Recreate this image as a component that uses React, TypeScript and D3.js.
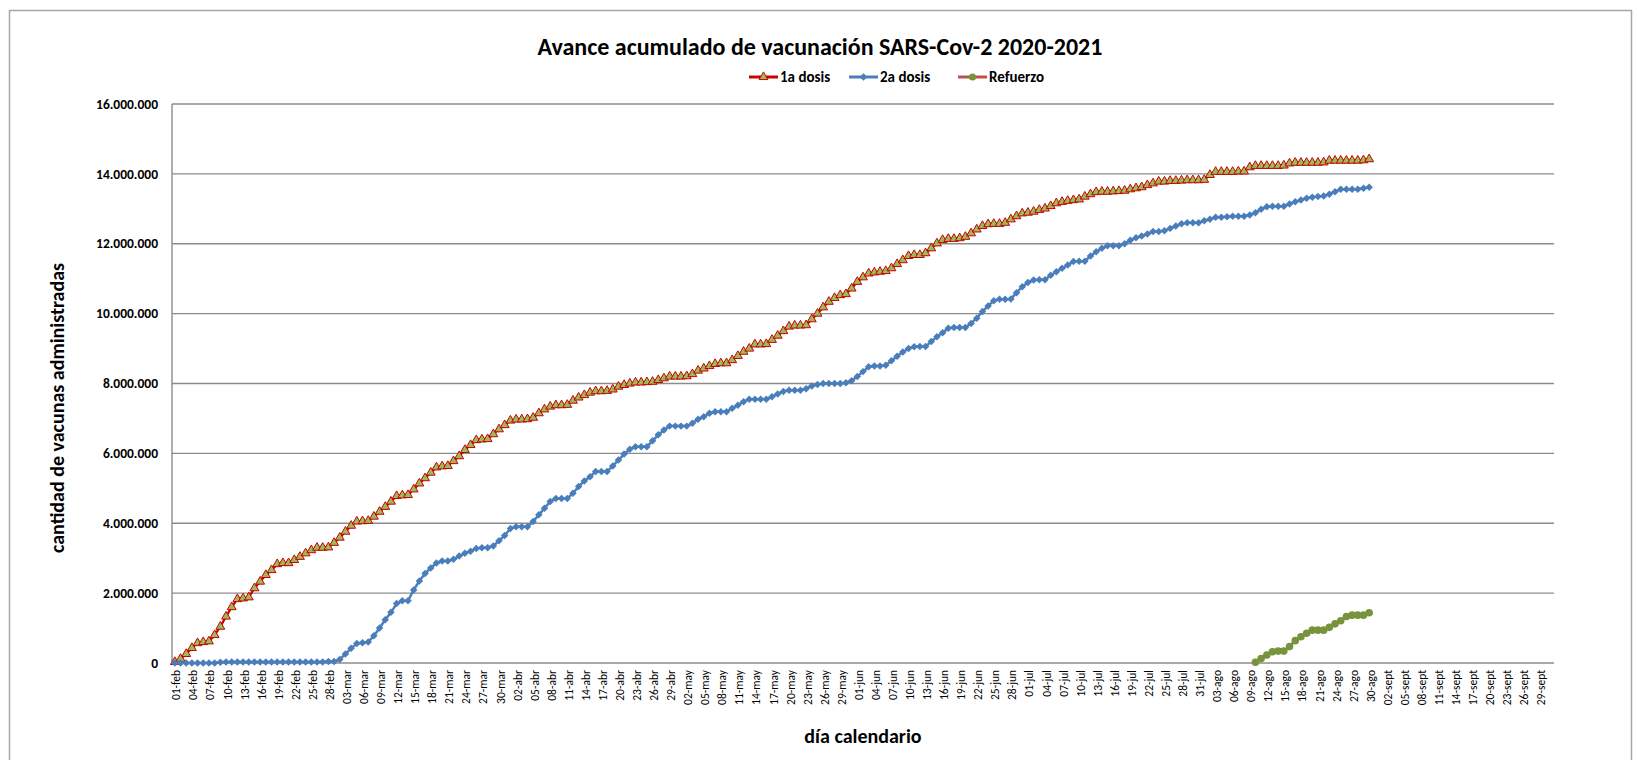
import * as d3 from "d3";

// categories: one per calendar day, 01-feb .. 01-oct (2021)
const meses = ["ene", "feb", "mar", "abr", "may", "jun", "jul", "ago", "sept", "oct", "nov", "dic"];
const dias = d3.timeDay.range(new Date(2021, 1, 1), new Date(2021, 9, 2));
const categorias = dias.map((d) => d3.timeFormat("%d")(d) + "-" + meses[d.getMonth()]);
const tickLabels = categorias.filter((_, i) => i % 3 === 0);

// 1a dosis, one row per week (mon..sun) from 01-feb to 30-ago
const primeraDosis = [
  30000, 120000, 260000, 430000, 570000, 600000, 620000,
  800000, 1040000, 1330000, 1600000, 1830000, 1850000, 1880000,
  2140000, 2330000, 2520000, 2660000, 2830000, 2860000, 2860000,
  2950000, 3040000, 3140000, 3230000, 3300000, 3300000, 3310000,
  3440000, 3590000, 3760000, 3930000, 4050000, 4060000, 4070000,
  4190000, 4330000, 4470000, 4620000, 4780000, 4800000, 4810000,
  4970000, 5140000, 5290000, 5450000, 5600000, 5630000, 5640000,
  5780000, 5920000, 6100000, 6240000, 6380000, 6400000, 6410000,
  6550000, 6690000, 6810000, 6940000, 6970000, 6970000, 6980000,
  7020000, 7150000, 7260000, 7340000, 7380000, 7380000, 7390000,
  7510000, 7600000, 7670000, 7740000, 7780000, 7780000, 7790000,
  7830000, 7910000, 7960000, 8000000, 8030000, 8030000, 8040000,
  8050000, 8100000, 8150000, 8200000, 8200000, 8200000, 8210000,
  8270000, 8370000, 8430000, 8500000, 8560000, 8580000, 8580000,
  8670000, 8790000, 8910000, 9000000, 9120000, 9120000, 9130000,
  9250000, 9370000, 9500000, 9630000, 9660000, 9660000, 9670000,
  9840000, 10000000, 10180000, 10340000, 10450000, 10530000, 10560000,
  10720000, 10910000, 11040000, 11150000, 11180000, 11200000, 11220000,
  11300000, 11420000, 11530000, 11650000, 11680000, 11680000, 11730000,
  11870000, 12010000, 12110000, 12140000, 12140000, 12160000, 12200000,
  12300000, 12410000, 12510000, 12560000, 12570000, 12570000, 12600000,
  12700000, 12790000, 12870000, 12890000, 12920000, 12970000, 13010000,
  13080000, 13160000, 13200000, 13230000, 13250000, 13270000, 13350000,
  13420000, 13480000, 13490000, 13490000, 13500000, 13510000, 13520000,
  13560000, 13590000, 13620000, 13680000, 13730000, 13780000, 13780000,
  13800000, 13800000, 13810000, 13820000, 13820000, 13820000, 13830000,
  13970000, 14060000, 14060000, 14060000, 14060000, 14070000, 14070000,
  14190000, 14230000, 14230000, 14230000, 14230000, 14230000, 14240000,
  14300000, 14320000, 14320000, 14320000, 14320000, 14320000, 14330000,
  14380000, 14380000, 14380000, 14380000, 14380000, 14380000, 14390000,
  14420000,
];

// 2a dosis
const segundaDosis = [
  0, 0, 0, 0, 0, 0, 0,
  0, 20000, 30000, 30000, 30000, 30000, 30000,
  30000, 30000, 30000, 30000, 30000, 30000, 30000,
  30000, 30000, 30000, 30000, 30000, 30000, 40000,
  40000, 100000, 260000, 420000, 560000, 580000, 600000,
  780000, 1000000, 1240000, 1450000, 1700000, 1780000, 1780000,
  2090000, 2350000, 2560000, 2720000, 2860000, 2920000, 2920000,
  2970000, 3060000, 3140000, 3200000, 3280000, 3300000, 3300000,
  3350000, 3500000, 3650000, 3850000, 3900000, 3900000, 3900000,
  4050000, 4240000, 4430000, 4620000, 4710000, 4710000, 4710000,
  4860000, 5050000, 5210000, 5330000, 5480000, 5480000, 5480000,
  5640000, 5810000, 5980000, 6120000, 6190000, 6190000, 6190000,
  6360000, 6530000, 6670000, 6780000, 6780000, 6780000, 6780000,
  6860000, 6980000, 7050000, 7150000, 7190000, 7190000, 7190000,
  7290000, 7380000, 7480000, 7550000, 7550000, 7550000, 7550000,
  7620000, 7700000, 7770000, 7810000, 7810000, 7810000, 7850000,
  7930000, 7970000, 8000000, 8000000, 8000000, 8000000, 8020000,
  8080000, 8200000, 8340000, 8480000, 8500000, 8500000, 8520000,
  8650000, 8780000, 8900000, 9000000, 9050000, 9060000, 9060000,
  9200000, 9340000, 9450000, 9580000, 9600000, 9600000, 9600000,
  9720000, 9870000, 10060000, 10220000, 10370000, 10410000, 10410000,
  10420000, 10600000, 10770000, 10890000, 10960000, 10970000, 10970000,
  11100000, 11200000, 11300000, 11390000, 11490000, 11500000, 11500000,
  11650000, 11770000, 11870000, 11940000, 11940000, 11940000, 12000000,
  12100000, 12170000, 12220000, 12280000, 12350000, 12350000, 12370000,
  12440000, 12510000, 12570000, 12600000, 12600000, 12600000, 12660000,
  12700000, 12760000, 12760000, 12770000, 12790000, 12790000, 12790000,
  12820000, 12890000, 12990000, 13060000, 13070000, 13070000, 13070000,
  13140000, 13200000, 13250000, 13300000, 13330000, 13350000, 13370000,
  13420000, 13490000, 13560000, 13560000, 13560000, 13560000, 13590000,
  13620000,
];

// Refuerzo, from 10-ago to 30-ago
const refuerzoInicio = "10-ago";
const refuerzo = [
  20000, 130000, 230000, 320000, 340000, 340000,
  470000, 640000, 750000, 850000, 940000, 940000, 940000,
  1020000, 1120000, 1210000, 1330000, 1370000, 1370000, 1370000,
  1440000,
];

const yTicks = [0, 2000000, 4000000, 6000000, 8000000, 10000000, 12000000, 14000000, 16000000];

const FONT = "Carlito, Lato, 'Open Sans', sans-serif";
const margin = { top: 104, right: 83, bottom: 97, left: 172 };
const W = 1637, H = 760;
const innerW = W - margin.left - margin.right;
const innerH = H - margin.top - margin.bottom;

const fmt = d3.formatLocale({ decimal: ",", thousands: ".", grouping: [3], currency: ["", ""] }).format(",d");

const RED = "#C80000", TRI_FILL = "#9BBB59";
const BLUE = "#4A7EBB";
const GREEN = "#77933C", REF_LINE = "#C0504D";

export default function App() {
  const x = d3.scaleBand().domain(categorias).range([0, innerW]).paddingInner(0).paddingOuter(0);
  const cx = (c: string) => (x(c) as number) + x.bandwidth() / 2;
  const y = d3.scaleLinear().domain([0, 16000000]).range([innerH, 0]);

  const s1 = primeraDosis.map((v, i) => ({ c: categorias[i], v }));
  const s2 = segundaDosis.map((v, i) => ({ c: categorias[i], v }));
  const off = categorias.indexOf(refuerzoInicio);
  const s3 = refuerzo.map((v, i) => ({ c: categorias[off + i], v }));

  const line = d3.line<{ c: string; v: number }>().x((d) => cx(d.c)).y((d) => y(d.v));
  const tri = d3.symbol(d3.symbolTriangle, 34)() as string;
  const dia = d3.symbol(d3.symbolSquare, 28)() as string;

  const legend = [
    { name: "1a dosis", x: 749, stroke: RED, marker: "tri" },
    { name: "2a dosis", x: 849, stroke: BLUE, marker: "dia" },
    { name: "Refuerzo", x: 958, stroke: REF_LINE, marker: "cir" },
  ];

  const marker = (m: string) =>
    m === "tri" ? (
      <path d={tri} fill={TRI_FILL} stroke={RED} strokeWidth={1} />
    ) : m === "dia" ? (
      <path d={dia} fill={BLUE} transform="rotate(45)" />
    ) : (
      <circle r={3.6} fill={GREEN} />
    );

  return (
    <svg width={W} height={H} style={{ position: "absolute", left: 0, top: 0, background: "#fff" }} fontFamily={FONT}>
      <rect x={9.5} y={10.5} width={1622} height={780} fill="#fff" stroke="#A6A6A6" strokeWidth={1.5} />

      <text x={820} y={55} textAnchor="middle" fontSize={24} fontWeight="bold" fill="#000">
        Avance acumulado de vacunación SARS-Cov-2 2020-2021
      </text>

      {legend.map((l) => (
        <g key={l.name} transform={`translate(${l.x},77)`}>
          <line x1={0} x2={29} y1={0} y2={0} stroke={l.stroke} strokeWidth={3} />
          <g transform="translate(14.5,0)">{marker(l.marker)}</g>
          <text x={31} y={0} dy="0.35em" fontSize={15} fontWeight="bold" fill="#000">
            {l.name}
          </text>
        </g>
      ))}

      <g transform={`translate(${margin.left},${margin.top})`}>
        {yTicks.map((t) => (
          <g key={t}>
            <line x1={0} x2={innerW} y1={y(t)} y2={y(t)} stroke="#8C8C8C" strokeWidth={1.4} />
            <text x={-14} y={y(t)} dy="0.35em" textAnchor="end" fontSize={13.5} fontWeight="bold" fill="#000">
              {fmt(t)}
            </text>
          </g>
        ))}
        <line x1={0} x2={0} y1={0} y2={innerH} stroke="#8C8C8C" strokeWidth={1.4} />

        {tickLabels.map((c) => (
          <text
            key={c}
            transform={`translate(${cx(c) + 1.5},${innerH + 7}) rotate(-90)`}
            dy="0.35em"
            textAnchor="end"
            fontSize={11.5}
            fill="#000"
          >
            {c}
          </text>
        ))}

        {/* 1a dosis */}
        <path d={line(s1) as string} fill="none" stroke={RED} strokeWidth={2.25} />
        {s1.map((d) => (
          <path key={"a" + d.c} d={tri} transform={`translate(${cx(d.c)},${y(d.v)})`} fill={TRI_FILL} stroke={RED} strokeWidth={1} />
        ))}

        {/* 2a dosis */}
        <path d={line(s2) as string} fill="none" stroke={BLUE} strokeWidth={2.5} />
        {s2.map((d) => (
          <path key={"b" + d.c} d={dia} transform={`translate(${cx(d.c)},${y(d.v)}) rotate(45)`} fill={BLUE} />
        ))}

        {/* Refuerzo */}
        <path d={line(s3) as string} fill="none" stroke={REF_LINE} strokeWidth={2.5} />
        {s3.map((d) => (
          <circle key={"c" + d.c} cx={cx(d.c)} cy={y(d.v)} r={3.8} fill={GREEN} />
        ))}
      </g>

      <text x={margin.left + innerW / 2} y={736} dy="0.35em" textAnchor="middle" fontSize={20} fontWeight="bold" fill="#000">
        día calendario
      </text>
      <text transform={`translate(57,408) rotate(-90)`} dy="0.35em" textAnchor="middle" fontSize={20} fontWeight="bold" fill="#000">
        cantidad de vacunas administradas
      </text>
    </svg>
  );
}
